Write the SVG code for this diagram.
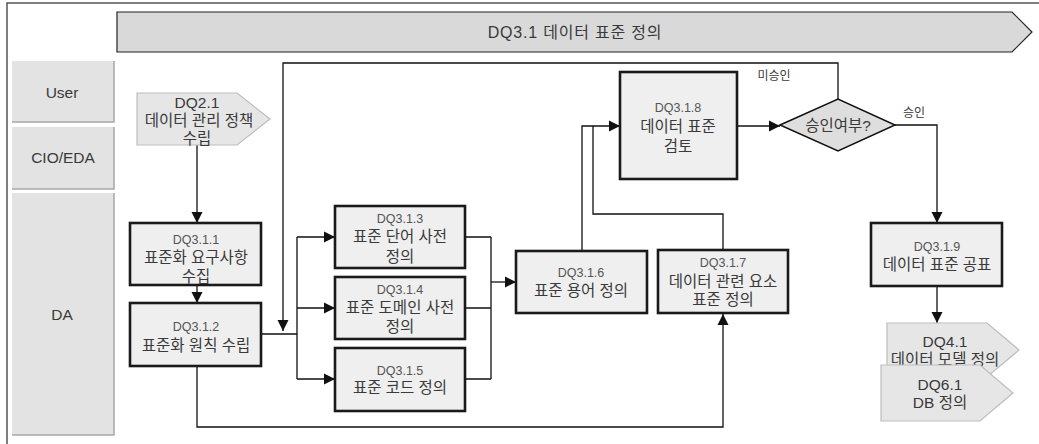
<svg xmlns="http://www.w3.org/2000/svg" width="1039" height="444" viewBox="0 0 1039 444">
<style>
text{font-family:"Liberation Sans","Noto Sans CJK KR",sans-serif;fill:#3a3a3a;text-anchor:middle}
.m{font-size:15.5px}
.t{font-size:16px;letter-spacing:0.8px}
.s{font-size:12.5px;fill:#555}
.lab{font-size:12px}
.ln{font-size:15.5px}
.lane{fill:#e3e3e3}
.ls{fill:none;stroke:#a8a8a8;stroke-width:1.5}
.box{fill:#efefef;stroke:#1a1a1a;stroke-width:2.6}
.pent{fill:#e6e6e6;stroke:#bdbdbd;stroke-width:1.2}
.c{fill:none;stroke:#111;stroke-width:1.3}
.ca{fill:none;stroke:#111;stroke-width:1.3;marker-end:url(#ah)}
</style>
<defs>
<marker id="ah" markerUnits="userSpaceOnUse" markerWidth="12" markerHeight="12" refX="11" refY="6" orient="auto" viewBox="0 0 12 12">
<path d="M0,0.5 L11,6 L0,11.5 z" fill="#111"/>
</marker>
</defs>
<rect width="1039" height="444" fill="#fff"/>
<path d="M7,444 V3 H1039" fill="none" stroke="#555" stroke-width="1.5"/>
<g id="banner">
<polygon points="117,12 1012,12 1032,32 1012,52 117,52" fill="#d9d9d9" stroke="#222" stroke-width="1.2"/>
<text class="t" x="575" y="38">DQ3.1  데이터 표준 정의</text>
</g>
<g id="lane-user">
<rect class="lane" x="12" y="61" width="102" height="61"/>
<path class="ls" d="M114,61 V122 H12"/>
<text class="ln" x="62" y="98">User</text>
</g>
<g id="lane-cio">
<rect class="lane" x="12" y="127" width="102" height="62"/>
<path class="ls" d="M114,127 V189 H12"/>
<text class="ln" x="63" y="163">CIO/EDA</text>
</g>
<g id="lane-da">
<rect class="lane" x="12" y="193" width="102" height="242"/>
<path class="ls" d="M114,193 V435 H12"/>
<text class="ln" x="62" y="320">DA</text>
</g>
<g id="connectors">
<path class="ca" d="M197,145 V223"/>
<path class="ca" d="M197,285 V303"/>
<path class="c" d="M262,334 H297 M297,237 V379"/>
<path class="ca" d="M297,237 H335"/>
<path class="ca" d="M297,308 H335"/>
<path class="ca" d="M297,379 H335"/>
<path class="c" d="M465,237 H491 M465,308 H491 M465,379 H491 M491,237 V379"/>
<path class="ca" d="M491,282 H516"/>
<path class="ca" d="M582,251 V126 H620"/>
<path class="c" d="M723,250 V214 H593 V126"/>
<path class="ca" d="M737,126 H780"/>
<path class="ca" d="M838,99 V63 H283 V331"/>
<path class="ca" d="M895,125 H937 V223"/>
<path class="ca" d="M937,286 V323"/>
<path class="ca" d="M197,366 V427 H723 V314"/>
</g>
<g id="dq2-1">
<polygon class="pent" points="137,93 237,93 270,119 237,145 137,145"/>
<text class="m" x="197" y="108">DQ2.1</text>
<text class="m" x="199" y="126">데이터 관리 정책</text>
<text class="m" x="197" y="144">수립</text>
</g>
<g id="dq3-1-1">
<rect class="box" x="130" y="223" width="131" height="62"/>
<text class="s" x="196" y="244">DQ3.1.1</text>
<text class="m" x="196" y="263">표준화 요구사항</text>
<text class="m" x="196" y="282">수집</text>
</g>
<g id="dq3-1-2">
<rect class="box" x="130" y="303" width="131" height="63"/>
<text class="s" x="196" y="331">DQ3.1.2</text>
<text class="m" x="196" y="351">표준화 원칙 수립</text>
</g>
<g id="dq3-1-3">
<rect class="box" x="335" y="206" width="130" height="62"/>
<text class="s" x="400" y="223">DQ3.1.3</text>
<text class="m" x="400" y="242">표준 단어 사전</text>
<text class="m" x="400" y="262">정의</text>
</g>
<g id="dq3-1-4">
<rect class="box" x="335" y="277" width="130" height="62"/>
<text class="s" x="400" y="294">DQ3.1.4</text>
<text class="m" x="400" y="313">표준 도메인 사전</text>
<text class="m" x="400" y="332">정의</text>
</g>
<g id="dq3-1-5">
<rect class="box" x="335" y="348" width="130" height="63"/>
<text class="s" x="400" y="375">DQ3.1.5</text>
<text class="m" x="400" y="393">표준 코드 정의</text>
</g>
<g id="dq3-1-6">
<rect class="box" x="516" y="251" width="131" height="62"/>
<text class="s" x="581" y="277">DQ3.1.6</text>
<text class="m" x="581" y="296">표준 용어 정의</text>
</g>
<g id="dq3-1-7">
<rect class="box" x="658" y="250" width="130" height="63"/>
<text class="s" x="723" y="267">DQ3.1.7</text>
<text class="m" x="723" y="287">데이터 관련 요소</text>
<text class="m" x="723" y="305">표준 정의</text>
</g>
<g id="dq3-1-8">
<rect class="box" x="620" y="72" width="117" height="107"/>
<text class="s" x="678" y="112">DQ3.1.8</text>
<text class="m" x="678" y="132">데이터 표준</text>
<text class="m" x="678" y="152">검토</text>
</g>
<g id="decision">
<polygon points="780,125 838,99 895,125 838,151" fill="#dedede" stroke="#111" stroke-width="1.5"/>
<text class="m" x="838" y="131">승인여부?</text>
</g>
<g id="labels">
<text class="lab" x="774" y="80">미승인</text>
<text class="lab" x="914" y="117">승인</text>
</g>
<g id="dq3-1-9">
<rect class="box" x="871" y="223" width="131" height="63"/>
<text class="s" x="937" y="251">DQ3.1.9</text>
<text class="m" x="937" y="270">데이터 표준 공표</text>
</g>
<g id="dq4-1">
<polygon class="pent" points="887,323 987,323 1019,350 987,377 887,377"/>
<text class="m" x="945" y="347">DQ4.1</text>
<text class="m" x="945" y="365">데이터 모델 정의</text>
</g>
<g id="dq6-1">
<polygon class="pent" points="881,365 980,365 1013,393 980,421 881,421"/>
<text class="m" x="940" y="390">DQ6.1</text>
<text class="m" x="940" y="408">DB 정의</text>
</g>
</svg>
